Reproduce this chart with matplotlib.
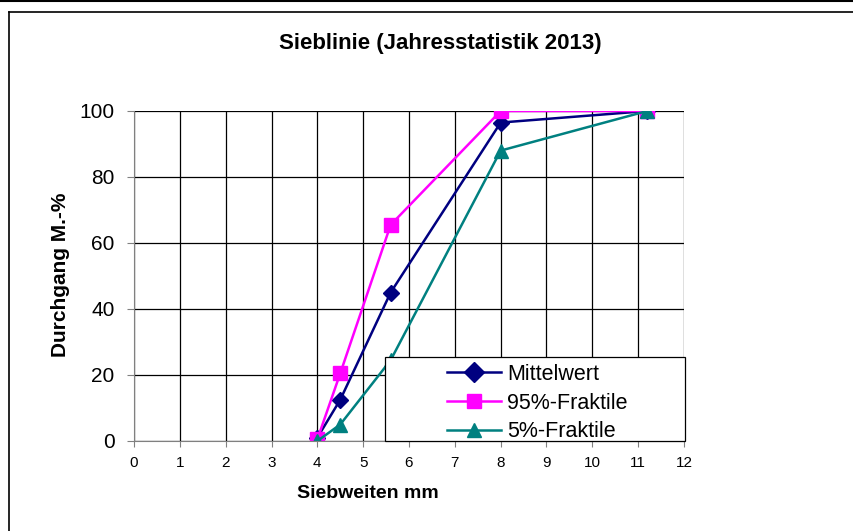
import matplotlib.pyplot as plt
from matplotlib.lines import Line2D
from matplotlib.patches import Rectangle

plt.rcParams['font.family'] = ['Liberation Sans', 'DejaVu Sans']

sieve = [4, 4.5, 5.6, 8, 11.2]
mittelwert = [1, 12.5, 45, 96.5, 100]
fraktile95 = [0.5, 20.5, 65.5, 100, 100]
fraktile5 = [0, 5, 24.5, 88, 100]

fig = plt.figure(figsize=(8.54, 5.31), dpi=100)
ax = fig.add_axes([134 / 854, 1 - 441 / 531, 550 / 854, 330 / 531])

ax.plot(sieve, mittelwert, color='#000080', marker='D', markersize=8, lw=1.8, label='Mittelwert')
ax.plot(sieve, fraktile95, color='#ff00ff', marker='s', markersize=10, lw=1.8, label='95%-Fraktile')
ax.plot(sieve, fraktile5, color='#008080', marker='^', markersize=10, lw=1.8, label='5%-Fraktile')

ax.set_xlim(0, 12)
ax.set_ylim(0, 100)
ax.set_xticks(range(0, 13))
ax.set_yticks(range(0, 101, 20))
ax.grid(True, color='black', lw=0.9)
ax.set_axisbelow(True)
for s in ['top', 'right']:
    ax.spines[s].set_visible(False)
ax.spines['left'].set_color('#808080')
ax.spines['bottom'].set_color('#808080')
ax.tick_params(axis='x', labelsize=11, direction='out', length=4, pad=7, color='#808080')
ax.tick_params(axis='y', labelsize=15, direction='out', length=5, pad=9, color='#808080')

fig.text(440 / 854, 1 - 44 / 531, 'Sieblinie (Jahresstatistik 2013)', fontsize=16,
         fontweight='bold', ha='center', va='center')
fig.text(368 / 854, 1 - 493 / 531, 'Siebweiten mm', fontsize=14,
         fontweight='bold', ha='center', va='center')
fig.text(61 / 854, 1 - 275 / 531, 'Durchgang M.-%', fontsize=15, rotation=90,
         fontweight='bold', ha='center', va='center')

# legend box like the Excel one, legend text inside without frame
box = Rectangle((0.456, 0), 0.546, 84 / 330, transform=ax.transAxes, facecolor='white',
                edgecolor='black', lw=0.9, zorder=4, clip_on=False)
ax.add_patch(box)
leg = ax.legend(loc='upper left', bbox_to_anchor=((447 - 134) / 550, 0.234),
                fontsize=15.5, frameon=False, borderpad=0, labelspacing=0.36,
                handlelength=2.5, handletextpad=0.3, borderaxespad=0)
leg.set_zorder(5)
for lh in leg.legend_handles:
    lh.set_markersize(10)

# chart border
fig.add_artist(Line2D([0, 1], [1 - 0.5 / 531, 1 - 0.5 / 531], color='black', lw=1.5))
fig.add_artist(Line2D([8.5 / 854, 1], [1 - 12 / 531, 1 - 12 / 531], color='black', lw=1.2))
fig.add_artist(Line2D([8.5 / 854, 8.5 / 854], [0, 1 - 12 / 531], color='black', lw=1.2))

fig.savefig('out.png', dpi=100)
